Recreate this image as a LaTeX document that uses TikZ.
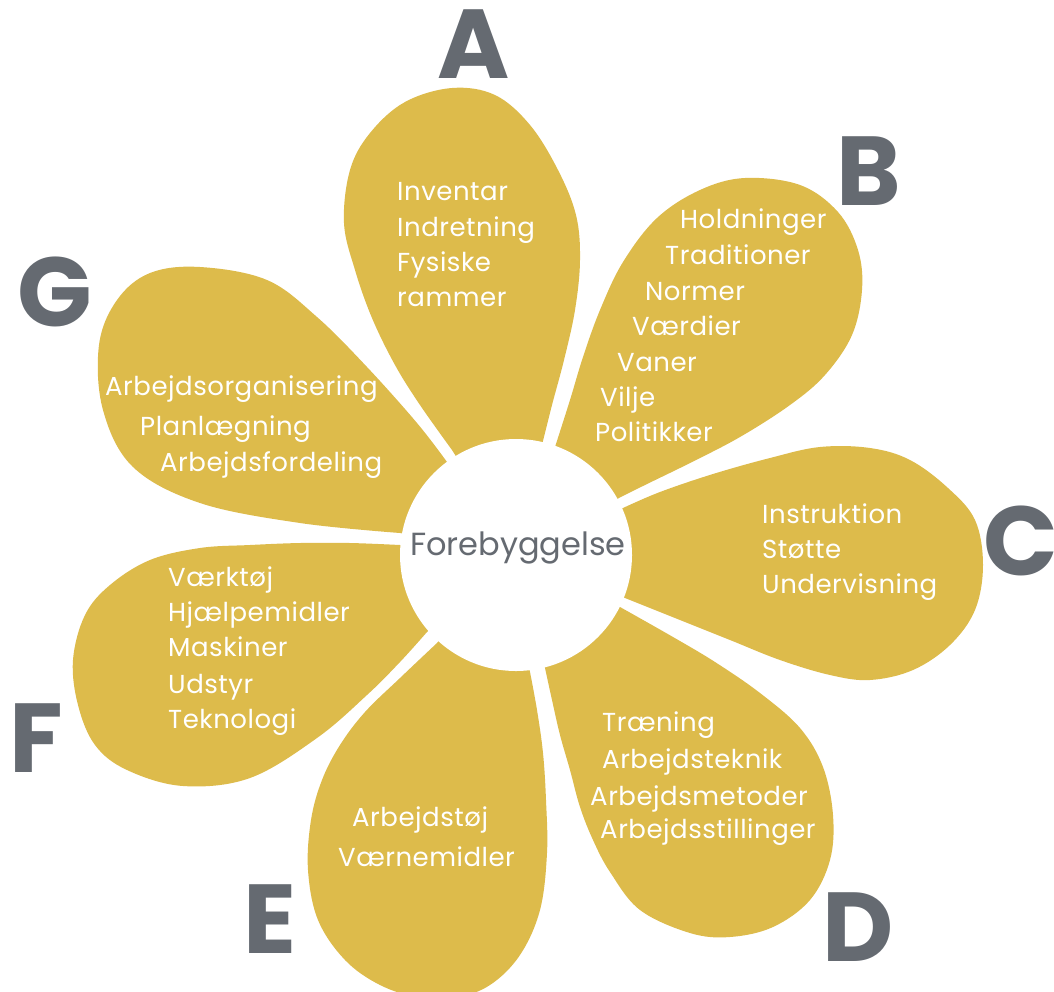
\documentclass[tikz,border=0pt]{standalone}
\usepackage{fontspec}
\setmainfont{Poppins}
\newfontfamily\itemfont[LetterSpace=2]{Poppins}
\definecolor{petalc}{HTML}{DDBB4B}
\definecolor{greyc}{HTML}{656A71}
\tikzset{
  petal/.style={fill=petalc, draw=none},
  item/.style={anchor=mid west, text=white, font=\itemfont\fontsize{26}{28}\selectfont, inner sep=0pt, yshift=-6pt},
  bigletter/.style={text=greyc, font=\fontsize{98}{100}\selectfont\bfseries, inner sep=0pt, anchor=center, text depth=0pt},
}
\begin{document}
\begin{tikzpicture}[x=1pt,y=-1pt]
\useasboundingbox (0,0) rectangle (1054,991);
\begin{scope}
\clip (0,0) rectangle (1054,991);
% A
\fill[petal] (512,545) -- plot[smooth, tension=0.6] coordinates {(452,450) (420,405) (395,365) (372,318) (355,270) (344,223) (350,170) (370,133) (405,102) (452,88) (495,95) (530,125) (558,170) (576,215) (580,260) (575,310) (564,360) (552,405) (542,445)} -- cycle;
% B
\fill[petal] (525,550) -- plot[smooth, tension=0.6] coordinates {(555,447) (570,400) (583,357) (600,310) (623,262) (657,218) (700,190) (745,178) (800,185) (838,212) (858,250) (862,290) (852,335) (825,375) (790,405) (740,437) (690,463) (645,485) (615,500)} -- cycle;
% C
\fill[petal] (516,553) -- plot[smooth, tension=0.6] coordinates {(625,598) (680,620) (730,640) (780,660) (830,675) (870,680) (913,670) (950,645) (975,610) (983,565) (975,520) (948,488) (910,460) (870,448) (820,447) (770,458) (713,474) (660,492) (623,508)} -- cycle;
% D
\fill[petal] (525,560) -- plot[smooth, tension=0.6] coordinates {(545,668) (552,700) (560,735) (570,770) (580,807) (593,840) (610,872) (640,910) (690,933) (730,937) (773,927) (810,900) (830,860) (833,815) (823,767) (800,728) (760,693) (715,662) (673,637) (620,607)} -- cycle;
% E
\fill[petal] (505,560) -- plot[smooth, tension=0.6] coordinates {(530,672) (537,710) (543,753) (546,800) (547,853) (540,910) (520,955) (490,985) (455,998) (420,998) (380,985) (345,960) (318,920) (308,870) (311,820) (322,780) (340,745) (365,712) (400,678) (437,643)} -- cycle;
% F
\fill[petal] (515,553) -- plot[smooth, tension=0.6] coordinates {(400,545) (350,543) (300,543) (250,545) (200,548) (150,560) (110,585) (85,615) (73,660) (78,705) (95,745) (127,770) (183,786) (250,778) (317,738) (367,695) (400,662) (427,632)} -- cycle;
% G
\fill[petal] (515,553) -- plot[smooth, tension=0.6] coordinates {(447,462) (417,423) (367,367) (317,317) (267,280) (200,267) (150,273) (117,300) (99,345) (103,410) (133,467) (200,503) (300,523) (400,533)} -- cycle;
\end{scope}
% centre
\node[circle, fill=white, minimum size=232pt, inner sep=0pt] (centre) at (516,555) {};
\node[anchor=mid, text=greyc, font=\fontsize{32}{34}\selectfont, yshift=-5pt] (centretext) at (518,548) {Forebyggelse};

% A texts
\node[item] (a1) at (397,192) {Inventar};
\node[item] (a2) at (397,228) {Indretning};
\node[item] (a3) at (397,263) {Fysiske};
\node[item] (a4) at (397,298) {rammer};
% B texts
\node[item] (b1) at (680,220) {Holdninger};
\node[item] (b2) at (665,256) {Traditioner};
\node[item] (b3) at (645,292) {Normer};
\node[item] (b4) at (632,327) {Værdier};
\node[item] (b5) at (617,363) {Vaner};
\node[item] (b6) at (600,398) {Vilje};
\node[item] (b7) at (595,433) {Politikker};
% C texts
\node[item] (c1) at (762,515) {Instruktion};
\node[item] (c2) at (762,550) {Støtte};
\node[item] (c3) at (762,585) {Undervisning};
% D texts
\node[item] (d1) at (602,723) {Træning};
\node[item] (d2) at (602,760) {Arbejdsteknik};
\node[item] (d3) at (590,797) {Arbejdsmetoder};
\node[item] (d4) at (600,830) {Arbejdsstillinger};
% E texts
\node[item] (e1) at (352,818) {Arbejdstøj};
\node[item] (e2) at (338,858) {Værnemidler};
% F texts
\node[item] (f1) at (168,578) {Værktøj};
\node[item] (f2) at (168,613) {Hjælpemidler};
\node[item] (f3) at (168,648) {Maskiner};
\node[item] (f4) at (168,685) {Udstyr};
\node[item] (f5) at (168,720) {Teknologi};
% G texts
\node[item] (g1) at (105,387) {Arbejdsorganisering};
\node[item] (g2) at (140,427) {Planlægning};
\node[item] (g3) at (160,463) {Arbejdsfordeling};

% letters
\node[bigletter] (LA) at (474,44) {A};
\node[bigletter] (LB) at (869,171) {B};
\node[bigletter] (LC) at (1021,541) {C};
\node[bigletter] (LD) at (858,927) {D};
\node[bigletter] (LE) at (270,919) {E};
\node[bigletter] (LF) at (36,738) {F};
\node[bigletter] (LG) at (55,292) {G};
\end{tikzpicture}
\end{document}
